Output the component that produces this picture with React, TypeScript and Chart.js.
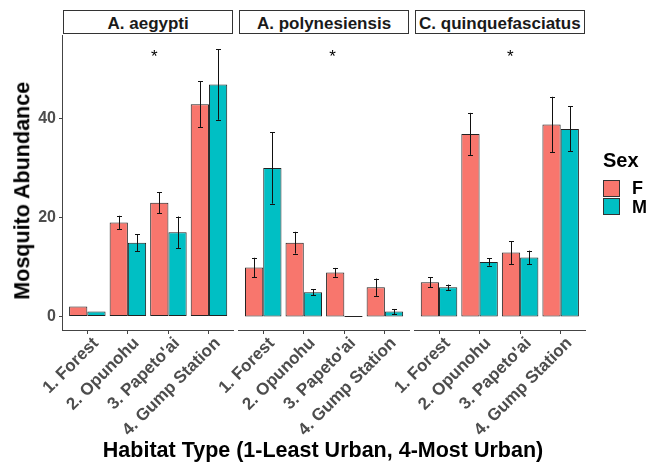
import React, { useEffect, useRef } from "react";
import { Chart, registerables } from "chart.js";

Chart.register(...registerables);

// ---------- data ----------
const habitats = ["1. Forest", "2. Opunohu", "3. Papeto'ai", "4. Gump Station"];
const species = ["A. aegypti", "A. polynesiensis", "C. quinquefasciatus"];
const sexes = ["F", "M"];
const yTicks = [0, 20, 40];

const aegyptiF = [2, 19, 23, 42.9];
const aegyptiM = [1, 14.9, 17, 46.9];
const aegyptiFse = [0, 1.35, 2.1, 4.6];
const aegyptiMse = [0, 1.75, 3.2, 7.15];

const polynesiensisF = [9.9, 14.9, 8.9, 5.9];
const polynesiensisM = [30, 4.9, 0, 1.0];
const polynesiensisFse = [1.95, 2.2, 0.9, 1.75];
const polynesiensisMse = [7.2, 0.6, 0, 0.5];

const quinqueF = [6.9, 36.9, 12.9, 38.8];
const quinqueM = [5.9, 11.0, 11.9, 37.9];
const quinqueFse = [1.0, 4.25, 2.3, 5.6];
const quinqueMse = [0.55, 0.75, 1.4, 4.55];

// significance marks (x in habitat units, y in abundance units)
const starLabel = "*";
const starX = [2.65, 2.71, 2.76];
const starY = 51.5;

// ---------- styling ----------
const W = 658;
const H = 463;
const FAM = '"Liberation Sans", Arial, Helvetica, sans-serif';
const colF = "#F8766D";
const colM = "#00BFC4";
const panelLefts = [63, 238.9, 414.7];
const panelWidth = 170.3;
const panelTop = 35;
const panelBottom = 330;
const yAxisWidth = 40;
const xLabelFont = 17;
const xLabelDX = 12;
const xLabelDY = 14;

const panelData = [
  { f: aegyptiF, m: aegyptiM, fse: aegyptiFse, mse: aegyptiMse },
  { f: polynesiensisF, m: polynesiensisM, fse: polynesiensisFse, mse: polynesiensisMse },
  { f: quinqueF, m: quinqueM, fse: quinqueFse, mse: quinqueMse },
];

function makePanelPlugin(panelIndex: number, ses: number[][], showY: boolean) {
  return {
    id: "panelDecor" + panelIndex,
    afterDatasetsDraw(chart: any) {
      const ctx = chart.ctx;
      const ys = chart.scales.y;
      const xs = chart.scales.x;
      ctx.save();
      ctx.strokeStyle = "#111";
      ctx.lineWidth = 1;
      chart.data.datasets.forEach((ds: any, di: number) => {
        const meta = chart.getDatasetMeta(di);
        meta.data.forEach((bar: any, j: number) => {
          const v = ds.data[j].y;
          const e = ses[di][j];
          if (!e) return;
          const top = ys.getPixelForValue(v + e);
          const bot = ys.getPixelForValue(v - e);
          const x = Math.round(bar.x) + 0.5;
          ctx.beginPath();
          ctx.moveTo(x, top);
          ctx.lineTo(x, bot);
          ctx.moveTo(x - 2.5, Math.round(top) + 0.5);
          ctx.lineTo(x + 2.5, Math.round(top) + 0.5);
          ctx.moveTo(x - 2.5, Math.round(bot) + 0.5);
          ctx.lineTo(x + 2.5, Math.round(bot) + 0.5);
          ctx.stroke();
        });
      });
      ctx.fillStyle = "#000";
      ctx.font = `17px ${FAM}`;
      ctx.textAlign = "center";
      ctx.textBaseline = "alphabetic";
      ctx.fillText(starLabel, xs.getPixelForValue(starX[panelIndex]), ys.getPixelForValue(starY));
      ctx.restore();
    },
    afterDraw(chart: any) {
      const ctx = chart.ctx;
      const ca = chart.chartArea;
      const xs = chart.scales.x;
      ctx.save();
      // rotated category labels (45deg, right-justified at the tick)
      ctx.fillStyle = "#4d4d4d";
      ctx.font = `bold ${xLabelFont}px ${FAM}`;
      ctx.textAlign = "right";
      ctx.textBaseline = "alphabetic";
      xs.ticks.forEach((t: any) => {
        const label = habitats[Math.round(t.value) - 1];
        if (!label) return;
        const px = xs.getPixelForValue(t.value);
        ctx.save();
        ctx.translate(px + xLabelDX, ca.bottom + xLabelDY);
        ctx.rotate(-Math.PI / 4);
        ctx.fillText(label, 0, 0);
        ctx.restore();
      });
      if (showY) {
        ctx.strokeStyle = "#444";
        ctx.lineWidth = 1;
        ctx.beginPath();
        const x = Math.round(ca.left) - 0.5;
        ctx.moveTo(x, ca.top);
        ctx.lineTo(x, Math.round(ca.bottom) + 1);
        ctx.stroke();
      }
      ctx.restore();
    },
  };
}

function buildConfig(i: number): any {
  const d = panelData[i];
  const showY = i === 0;
  const left = panelLefts[i];
  const barStyle = {
    borderColor: "#222",
    borderWidth: 1,
    borderSkipped: false,
    categoryPercentage: 0.9,
    barPercentage: 1,
    minBarLength: 1,
  };
  return {
    type: "bar",
    data: {
      datasets: [
        { label: sexes[0], data: habitats.map((_, k) => ({ x: k + 1, y: d.f[k] })), backgroundColor: colF, ...barStyle },
        { label: sexes[1], data: habitats.map((_, k) => ({ x: k + 1, y: d.m[k] })), backgroundColor: colM, ...barStyle },
      ],
    },
    options: {
      animation: false,
      responsive: false,
      maintainAspectRatio: false,
      devicePixelRatio: 1,
      events: [],
      layout: {
        padding: {
          left: showY ? left - yAxisWidth : left,
          right: W - left - panelWidth,
          top: panelTop,
          bottom: 0,
        },
      },
      plugins: { legend: { display: false }, tooltip: { enabled: false }, title: { display: false } },
      scales: {
        x: {
          type: "linear",
          min: 0.4,
          max: 4.6,
          offset: false,
          bounds: "data",
          afterBuildTicks: (s: any) => {
            s.ticks = habitats.map((_, k) => ({ value: k + 1 }));
          },
          afterFit: (s: any) => {
            s.height = H - panelBottom;
          },
          grid: { display: true, offset: false, drawOnChartArea: false, drawTicks: true, tickLength: 4, color: "#444", lineWidth: 1 },
          border: { display: true, color: "#444", width: 1 },
          ticks: { display: false, autoSkip: false },
        },
        y: {
          type: "linear",
          position: "left",
          min: -2.75,
          max: 56.9,
          bounds: "data",
          beginAtZero: false,
          display: showY,
          afterBuildTicks: (s: any) => {
            s.ticks = yTicks.map((v) => ({ value: v }));
          },
          afterFit: (s: any) => {
            s.width = showY ? yAxisWidth : 0;
          },
          grid: { display: true, drawOnChartArea: false, drawTicks: true, tickLength: 4, color: "#444", lineWidth: 1 },
          border: { display: false },
          ticks: {
            padding: 3,
            color: "#4d4d4d",
            font: { family: FAM, size: 16, weight: "bold" },
          },
        },
      },
    },
    plugins: [makePanelPlugin(i, [d.fse, d.mse], showY)],
  };
}

export default function App() {
  const r0 = useRef<HTMLCanvasElement>(null);
  const r1 = useRef<HTMLCanvasElement>(null);
  const r2 = useRef<HTMLCanvasElement>(null);

  useEffect(() => {
    const refs = [r0, r1, r2];
    const charts = refs.map((r, i) => new Chart(r.current as HTMLCanvasElement, buildConfig(i)));
    return () => charts.forEach((ch) => ch.destroy());
  }, []);

  const canvasStyle: React.CSSProperties = { position: "absolute", left: 0, top: 0, width: W, height: H };

  return (
    <div style={{ position: "absolute", left: 0, top: 0, width: W, height: H, background: "#fff", fontFamily: FAM, overflow: "hidden" }}>
      {species.map((s, i) => (
        <div
          key={s}
          style={{
            position: "absolute",
            left: panelLefts[i],
            top: 10,
            width: panelWidth,
            height: 24,
            boxSizing: "border-box",
            border: "1px solid #333",
            textAlign: "center",
            fontWeight: "bold",
            fontSize: 17,
            lineHeight: "25px",
            color: "#1a1a1a",
            whiteSpace: "nowrap",
          }}
        >
          {s}
        </div>
      ))}
      <canvas ref={r0} width={W} height={H} style={canvasStyle} />
      <canvas ref={r1} width={W} height={H} style={canvasStyle} />
      <canvas ref={r2} width={W} height={H} style={canvasStyle} />

      <div
        style={{
          position: "absolute",
          left: 23 - 150,
          top: 191 - 10.75,
          width: 300,
          height: 21.5,
          lineHeight: "21.5px",
          fontSize: 21.5,
          fontWeight: "bold",
          textAlign: "center",
          color: "#000",
          transform: "rotate(-90deg)",
          transformOrigin: "center center",
          whiteSpace: "nowrap",
        }}
      >
        Mosquito Abundance
      </div>
      <div
        style={{
          position: "absolute",
          left: 323 - 300,
          top: 440.1,
          width: 600,
          lineHeight: "21.5px",
          fontSize: 21.5,
          fontWeight: "bold",
          textAlign: "center",
          color: "#000",
          whiteSpace: "nowrap",
        }}
      >
        Habitat Type (1-Least Urban, 4-Most Urban)
      </div>

      <div style={{ position: "absolute", left: 603, top: 149.5, fontSize: 20, lineHeight: "20px", fontWeight: "bold", color: "#000" }}>Sex</div>
      {sexes.map((s, i) => (
        <React.Fragment key={s}>
          <div
            style={{
              position: "absolute",
              left: 603,
              top: 180 + i * 18,
              width: 17,
              height: 17,
              boxSizing: "border-box",
              border: "1px solid #333",
              background: i === 0 ? colF : colM,
            }}
          />
          <div
            style={{
              position: "absolute",
              left: 632,
              top: 179.2 + i * 18.8,
              fontSize: 18,
              lineHeight: "18px",
              fontWeight: "bold",
              color: "#000",
            }}
          >
            {s}
          </div>
        </React.Fragment>
      ))}
    </div>
  );
}
